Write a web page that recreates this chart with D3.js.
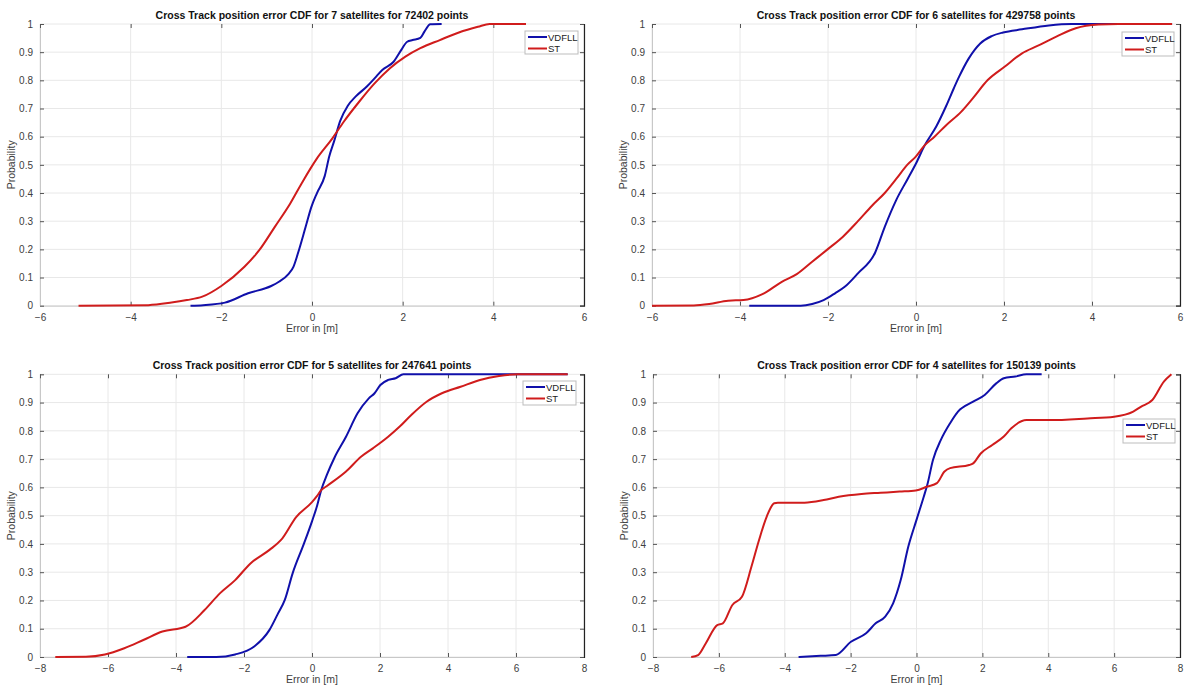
<!DOCTYPE html>
<html>
<head>
<meta charset="utf-8">
<script src="https://cdn.jsdelivr.net/npm/d3@7"></script>
<style>
  html, body { margin: 0; padding: 0; background: #ffffff; }
  svg { display: block; font-family: "Liberation Sans", Arial, Helvetica, sans-serif; }
</style>
</head>
<body>
<svg id="chart" width="1189" height="689"></svg>
<script>
// ---------- DATA ----------
const seriesNames = ["VDFLL", "ST"];
const titles = [
  "Cross Track position error CDF for 7 satellites for 72402 points",
  "Cross Track position error CDF for 6 satellites for 429758 points",
  "Cross Track position error CDF for 5 satellites for 247641 points",
  "Cross Track position error CDF for 4 satellites for 150139 points"
];
const xDomains = [[-6, 6], [-6, 6], [-8, 8], [-8, 8]];
const xTicks6 = [-6, -4, -2, 0, 2, 4, 6];
const xTicks8 = [-8, -6, -4, -2, 0, 2, 4, 6, 8];
const yTicks = [0, 0.1, 0.2, 0.3, 0.4, 0.5, 0.6, 0.7, 0.8, 0.9, 1];
const xLabel = "Error in [m]";
const yLabel = "Probability";

// Panel 1: 7 satellites
const vdfll7 = [[-2.68,0],[-2.4,0.002],[-1.92,0.011],[-1.41,0.044],[-0.90,0.07],[-0.73,0.085],[-0.52,0.112],[-0.41,0.138],[-0.31,0.186],[-0.14,0.28],[-0.015,0.35],[0.11,0.40],[0.28,0.46],[0.38,0.53],[0.49,0.585],[0.62,0.655],[0.79,0.71],[0.96,0.742],[1.21,0.778],[1.38,0.807],[1.55,0.837],[1.80,0.866],[1.97,0.908],[2.10,0.937],[2.22,0.943],[2.39,0.951],[2.48,0.973],[2.61,0.999],[2.86,1]];
const st7 = [[-5.15,0],[-3.61,0.002],[-3.10,0.011],[-2.76,0.02],[-2.42,0.032],[-2.0,0.07],[-1.49,0.138],[-1.16,0.198],[-0.82,0.28],[-0.48,0.363],[-0.23,0.434],[0.11,0.523],[0.45,0.594],[0.70,0.653],[1.04,0.724],[1.38,0.789],[1.72,0.843],[2.06,0.884],[2.39,0.914],[2.82,0.943],[3.24,0.970],[3.66,0.990],[3.92,1],[4.72,1]];

// Panel 2: 6 satellites
const vdfll6 = [[-3.79,0],[-2.62,0],[-2.36,0.006],[-2.10,0.02],[-1.84,0.044],[-1.62,0.067],[-1.32,0.115],[-0.93,0.188],[-0.71,0.28],[-0.45,0.375],[-0.19,0.45],[0,0.505],[0.2,0.57],[0.46,0.636],[0.68,0.707],[0.86,0.772],[0.98,0.813],[1.20,0.878],[1.46,0.931],[1.72,0.957],[1.98,0.970],[2.41,0.981],[3.02,0.995],[3.54,1],[5.82,1]];
const st6 = [[-6,0],[-5.05,0.001],[-4.70,0.006],[-4.27,0.018],[-3.92,0.02],[-3.49,0.041],[-3.05,0.085],[-2.71,0.112],[-2.36,0.156],[-2.01,0.2],[-1.66,0.245],[-1.32,0.3],[-1.0,0.355],[-0.71,0.4],[-0.45,0.45],[-0.2,0.5],[0,0.53],[0.2,0.57],[0.42,0.6],[0.68,0.64],[1.03,0.689],[1.29,0.736],[1.63,0.801],[2.02,0.849],[2.41,0.896],[2.76,0.922],[3.19,0.955],[3.63,0.985],[4.15,0.998],[4.6,1],[5.82,1]];

// Panel 3: 5 satellites
const vdfll5 = [[-3.67,0],[-2.82,0],[-2.26,0.009],[-1.70,0.037],[-1.25,0.096],[-1.02,0.149],[-0.80,0.202],[-0.57,0.296],[-0.24,0.40],[0,0.48],[0.15,0.535],[0.27,0.59],[0.44,0.645],[0.66,0.705],[1.0,0.779],[1.34,0.862],[1.67,0.915],[1.84,0.933],[2.01,0.962],[2.24,0.980],[2.46,0.986],[2.69,1],[7.52,1]];
const st5 = [[-7.55,0],[-6.65,0.001],[-6.09,0.009],[-5.52,0.031],[-4.96,0.06],[-4.40,0.09],[-3.72,0.107],[-3.16,0.166],[-2.71,0.225],[-2.26,0.272],[-1.81,0.331],[-1.25,0.379],[-0.91,0.414],[-0.46,0.496],[0,0.548],[0.15,0.57],[0.27,0.59],[0.44,0.605],[1.0,0.656],[1.45,0.709],[1.79,0.738],[2.24,0.779],[2.58,0.815],[2.92,0.856],[3.37,0.903],[3.82,0.933],[4.37,0.956],[4.94,0.980],[5.50,0.994],[6.06,1],[7.52,1]];

// Panel 4: 4 satellites
const vdfll4 = [[-3.58,0],[-2.91,0.004],[-2.45,0.007],[-1.99,0.054],[-1.53,0.084],[-1.24,0.119],[-0.95,0.143],[-0.71,0.19],[-0.48,0.272],[-0.25,0.39],[0,0.485],[0.22,0.567],[0.33,0.61],[0.50,0.697],[0.74,0.768],[1.02,0.827],[1.26,0.868],[1.72,0.903],[2.07,0.927],[2.42,0.968],[2.65,0.986],[3.0,0.992],[3.34,1],[3.80,1]];
const st4 = [[-6.84,0],[-6.63,0.007],[-6.40,0.048],[-6.05,0.113],[-5.88,0.119],[-5.59,0.184],[-5.30,0.213],[-5.01,0.32],[-4.78,0.414],[-4.55,0.496],[-4.32,0.544],[-4.21,0.546],[-3.40,0.546],[-2.82,0.555],[-2.36,0.567],[-1.67,0.577],[-1.09,0.581],[-0.51,0.585],[-0.02,0.589],[0.33,0.603],[0.62,0.615],[0.85,0.656],[1.02,0.668],[1.60,0.679],[1.72,0.685],[1.95,0.72],[2.30,0.75],[2.65,0.78],[2.88,0.809],[3.34,0.838],[4.04,0.838],[5.19,0.844],[6.00,0.85],[6.58,0.868],[6.81,0.885],[7.16,0.909],[7.51,0.974],[7.74,1]];

const vdfllSeries = [vdfll7, vdfll6, vdfll5, vdfll4];
const stSeries = [st7, st6, st5, st4];

// ---------- LAYOUT ----------
const colors = { VDFLL: "#1010aa", ST: "#d01c1c" };
const panels = [
  { x0: 40,  x1: 584,  y0: 24,    y1: 305.7, ticks: xTicks6, leg: { x: 525,  y: 31,  w: 53, h: 23 } },
  { x0: 652, x1: 1180, y0: 24,    y1: 305.7, ticks: xTicks6, leg: { x: 1122, y: 32,  w: 52, h: 24 } },
  { x0: 40,  x1: 584,  y0: 374.3, y1: 657,   ticks: xTicks8, leg: { x: 523,  y: 381, w: 53, h: 24 } },
  { x0: 653, x1: 1180, y0: 374.3, y1: 657,   ticks: xTicks8, leg: { x: 1123, y: 419, w: 52, h: 24 } }
];

const svg = d3.select("#chart");

panels.forEach((p, i) => {
  const x = d3.scaleLinear().domain(xDomains[i]).range([p.x0, p.x1]);
  const y = d3.scaleLinear().domain([0, 1]).range([p.y1, p.y0]);
  const g = svg.append("g");

  // grid
  g.append("g").selectAll("line").data(yTicks).join("line")
    .attr("x1", p.x0).attr("x2", p.x1)
    .attr("y1", d => y(d)).attr("y2", d => y(d))
    .attr("stroke", "#e8e8e8").attr("stroke-width", 1);
  g.append("g").selectAll("line").data(p.ticks).join("line")
    .attr("y1", p.y0).attr("y2", p.y1)
    .attr("x1", d => x(d)).attr("x2", d => x(d))
    .attr("stroke", "#e8e8e8").attr("stroke-width", 1);

  // axes
  const xAxis = d3.axisBottom(x).tickValues(p.ticks).tickSize(-4).tickPadding(8).tickFormat(d3.format("d"));
  const yAxis = d3.axisLeft(y).tickValues(yTicks).tickSize(-4).tickPadding(7).tickFormat(d => d === 0 || d === 1 ? String(d) : d3.format(".1f")(d));
  const xa = g.append("g").attr("transform", `translate(0,${p.y1})`).call(xAxis);
  const ya = g.append("g").attr("transform", `translate(${p.x0},0)`).call(yAxis);
  [xa, ya].forEach(a => {
    a.select(".domain").attr("stroke", "#c8c8c8");
    a.selectAll(".tick line").attr("stroke", "#555");
    a.selectAll(".tick text").attr("fill", "#404040").style("font-size", "10px")
      .style("font-family", "'Liberation Sans', Arial, sans-serif");
  });
  // top & right ticks (MATLAB box)
  const xTop = d3.axisTop(x).tickValues(p.ticks).tickSize(-4).tickFormat("");
  const yRight = d3.axisRight(y).tickValues(yTicks).tickSize(-4).tickFormat("");
  const ta = g.append("g").attr("transform", `translate(0,${p.y0})`).call(xTop);
  ta.select(".domain").attr("stroke", "none");
  ta.selectAll(".tick line").attr("stroke", "#555");
  const ra = g.append("g").attr("transform", `translate(${p.x1},0)`).call(yRight);
  ra.select(".domain").attr("stroke", "#222").attr("stroke-width", 1.2);
  ra.selectAll(".tick line").attr("stroke", "#555");

  // lines
  const line = d3.line().x(d => x(d[0])).y(d => y(d[1])).curve(d3.curveMonotoneX);
  const clipId = "clip" + i;
  g.append("clipPath").attr("id", clipId).append("rect")
    .attr("x", p.x0 - 2).attr("y", p.y0 - 2).attr("width", p.x1 - p.x0 + 4).attr("height", p.y1 - p.y0 + 4);
  const lg = g.append("g").attr("clip-path", `url(#${clipId})`);
  lg.append("path").datum(vdfllSeries[i]).attr("d", line)
    .attr("fill", "none").attr("stroke", colors.VDFLL).attr("stroke-width", 2);
  lg.append("path").datum(stSeries[i]).attr("d", line)
    .attr("fill", "none").attr("stroke", colors.ST).attr("stroke-width", 2);

  // title
  g.append("text")
    .attr("x", (p.x0 + p.x1) / 2).attr("y", p.y0 - 5)
    .attr("text-anchor", "middle")
    .style("font-size", "10.5px").style("font-weight", "bold").attr("fill", "#111")
    .text(titles[i]);

  // x label
  g.append("text")
    .attr("x", (p.x0 + p.x1) / 2).attr("y", p.y1 + 26)
    .attr("text-anchor", "middle").style("font-size", "10.5px").attr("fill", "#404040")
    .text(xLabel);
  // y label
  g.append("text")
    .attr("transform", `translate(${p.x0 - 25},${(p.y0 + p.y1) / 2}) rotate(-90)`)
    .attr("text-anchor", "middle").style("font-size", "10.5px").attr("fill", "#404040")
    .text(yLabel);

  // legend
  const L = p.leg;
  const lgd = g.append("g");
  lgd.append("rect").attr("x", L.x).attr("y", L.y).attr("width", L.w).attr("height", L.h)
    .attr("fill", "#fff").attr("stroke", "#bdbdbd").attr("stroke-width", 1);
  seriesNames.forEach((name, k) => {
    const yy = L.y + 6 + k * 11.5;
    lgd.append("line").attr("x1", L.x + 3).attr("x2", L.x + 22).attr("y1", yy).attr("y2", yy)
      .attr("stroke", colors[name]).attr("stroke-width", 2);
    lgd.append("text").attr("x", L.x + 23).attr("y", yy + 3.5)
      .style("font-size", "9.5px").attr("fill", "#222").text(name);
  });
});
</script>
</body>
</html>
